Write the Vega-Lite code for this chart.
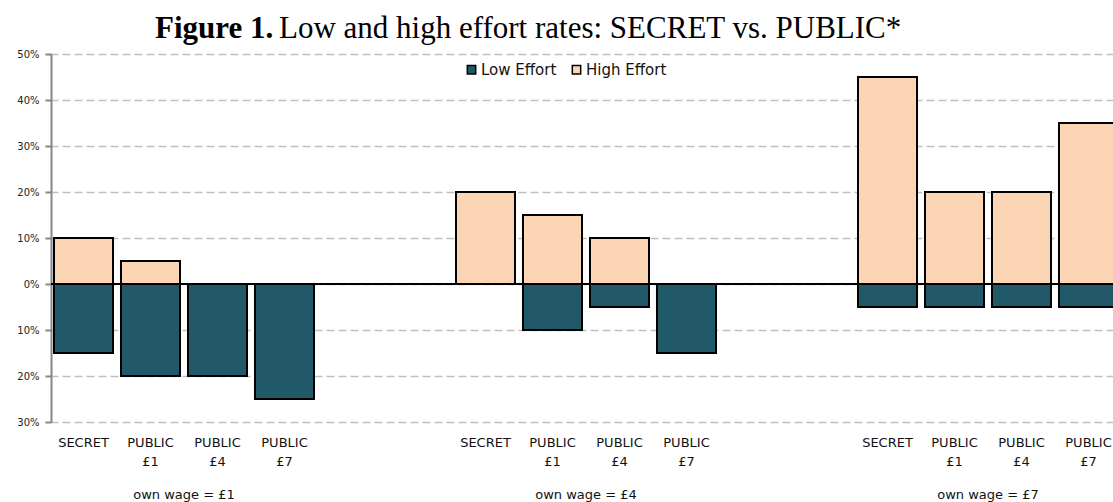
{
  "$schema": "https://vega.github.io/schema/vega-lite/v6.json",
  "width": 1062,
  "height": 368,
  "autosize": {"type": "none"},
  "padding": {"left": 51, "top": 54, "right": 0, "bottom": 80},
  "background": "white",
  "title": {
    "text": "Figure 1.",
    "subtitle": "\u200b\u00a0\u00a0\u00a0\u00a0\u00a0\u00a0\u00a0\u00a0\u00a0\u00a0\u00a0\u00a0\u00a0\u00a0\u00a0\u00a0Low and high effort rates: SECRET vs. PUBLIC*",
    "anchor": "start",
    "frame": "group",
    "dx": 104,
    "offset": 4,
    "font": "Liberation Serif",
    "fontSize": 31,
    "fontWeight": "bold",
    "color": "black",
    "lineHeight": 31,
    "subtitleFont": "Liberation Serif",
    "subtitleFontSize": 31,
    "subtitleFontWeight": "normal",
    "subtitleColor": "black",
    "subtitleLineHeight": 31,
    "subtitlePadding": -31
  },
  "config": {"view": {"stroke": null}},
  "data": {
    "values": [
      {"bar": "£1|SECRET", "effort": "High Effort", "rate": 0.10},
      {"bar": "£1|SECRET", "effort": "Low Effort", "rate": -0.15},
      {"bar": "£1|PUBLIC|£1", "effort": "High Effort", "rate": 0.05},
      {"bar": "£1|PUBLIC|£1", "effort": "Low Effort", "rate": -0.20},
      {"bar": "£1|PUBLIC|£4", "effort": "High Effort", "rate": 0.0},
      {"bar": "£1|PUBLIC|£4", "effort": "Low Effort", "rate": -0.20},
      {"bar": "£1|PUBLIC|£7", "effort": "High Effort", "rate": 0.0},
      {"bar": "£1|PUBLIC|£7", "effort": "Low Effort", "rate": -0.25},
      {"bar": "£4|SECRET", "effort": "High Effort", "rate": 0.20},
      {"bar": "£4|SECRET", "effort": "Low Effort", "rate": 0.0},
      {"bar": "£4|PUBLIC|£1", "effort": "High Effort", "rate": 0.15},
      {"bar": "£4|PUBLIC|£1", "effort": "Low Effort", "rate": -0.10},
      {"bar": "£4|PUBLIC|£4", "effort": "High Effort", "rate": 0.10},
      {"bar": "£4|PUBLIC|£4", "effort": "Low Effort", "rate": -0.05},
      {"bar": "£4|PUBLIC|£7", "effort": "High Effort", "rate": 0.0},
      {"bar": "£4|PUBLIC|£7", "effort": "Low Effort", "rate": -0.15},
      {"bar": "£7|SECRET", "effort": "High Effort", "rate": 0.45},
      {"bar": "£7|SECRET", "effort": "Low Effort", "rate": -0.05},
      {"bar": "£7|PUBLIC|£1", "effort": "High Effort", "rate": 0.20},
      {"bar": "£7|PUBLIC|£1", "effort": "Low Effort", "rate": -0.05},
      {"bar": "£7|PUBLIC|£4", "effort": "High Effort", "rate": 0.20},
      {"bar": "£7|PUBLIC|£4", "effort": "Low Effort", "rate": -0.05},
      {"bar": "£7|PUBLIC|£7", "effort": "High Effort", "rate": 0.35},
      {"bar": "£7|PUBLIC|£7", "effort": "Low Effort", "rate": -0.05}
    ]
  },
  "resolve": {"axis": {"x": "independent"}},
  "layer": [
    {
      "mark": {"type": "bar", "stroke": "black", "strokeWidth": 2, "clip": true},
      "encoding": {
        "x": {
          "field": "bar",
          "type": "nominal",
          "sort": null,
          "scale": {
            "domain": ["£1|SECRET", "£1|PUBLIC|£1", "£1|PUBLIC|£4", "£1|PUBLIC|£7", "gap1a", "gap1b",
                       "£4|SECRET", "£4|PUBLIC|£1", "£4|PUBLIC|£4", "£4|PUBLIC|£7", "gap2a", "gap2b",
                       "£7|SECRET", "£7|PUBLIC|£1", "£7|PUBLIC|£4", "£7|PUBLIC|£7"],
            "range": [-1, 1071],
            "paddingInner": 0.1194,
            "paddingOuter": 0.0597
          },
          "axis": {
            "orient": "bottom",
            "title": null,
            "domain": false,
            "ticks": false,
            "grid": false,
            "labelAngle": 0,
            "labelOverlap": false,
            "labelExpr": "indexof(datum.value, '|') < 0 ? '' : slice(split(datum.value, '|'), 1)",
            "labelFont": "DejaVu Sans",
            "labelFontSize": 13,
            "labelColor": "#111111",
            "labelPadding": 14,
            "labelLineHeight": 19,
            "labelBaseline": "top"
          }
        },
        "y": {
          "field": "rate",
          "type": "quantitative",
          "stack": null,
          "scale": {"domain": [-0.3, 0.5], "nice": false, "zero": false},
          "axis": {
            "title": null,
            "values": [-0.3, -0.2, -0.1, 0, 0.1, 0.2, 0.3, 0.4, 0.5],
            "labelExpr": "format(abs(datum.value), '.0%')",
            "grid": true,
            "gridColor": "#c0c0c0",
            "gridDash": [8, 4],
            "gridWidth": 1.5,
            "domainColor": "#868686",
            "domainWidth": 2,
            "tickColor": "#868686",
            "tickWidth": 2,
            "tickSize": 6,
            "labelFont": "DejaVu Sans",
            "labelFontSize": 10,
            "labelColor": "#222222",
            "labelPadding": 6
          }
        },
        "color": {
          "field": "effort",
          "type": "nominal",
          "scale": {"domain": ["Low Effort", "High Effort"], "range": ["#215968", "#FCD5B4"]},
          "legend": {
            "orient": "none",
            "legendX": 413,
            "legendY": 8,
            "direction": "horizontal",
            "title": null,
            "symbolType": "square",
            "symbolSize": 70,
            "symbolStrokeColor": "black",
            "symbolStrokeWidth": 1.5,
            "labelFont": "DejaVu Sans",
            "labelFontSize": 15,
            "labelColor": "#111111",
            "labelOffset": 2,
            "columnPadding": 12
          }
        }
      }
    },
    {
      "mark": {"type": "rule", "color": "black", "strokeWidth": 2},
      "encoding": {"y": {"datum": 0}}
    },
    {
      "mark": {"type": "rule", "opacity": 0},
      "encoding": {
        "x": {
          "field": "bar",
          "type": "nominal",
          "axis": {
            "orient": "bottom",
            "title": null,
            "domain": false,
            "ticks": false,
            "grid": false,
            "labelAngle": 0,
            "values": ["£1|PUBLIC|£1", "£4|PUBLIC|£1", "£7|PUBLIC|£1"],
            "labelExpr": "'own wage  =  ' + split(datum.value, '|')[0]",
            "labelOffset": 33.5,
            "labelPadding": 66,
            "labelBaseline": "top",
            "labelFont": "DejaVu Sans",
            "labelFontSize": 13,
            "labelColor": "#111111"
          }
        }
      }
    }
  ]
}
